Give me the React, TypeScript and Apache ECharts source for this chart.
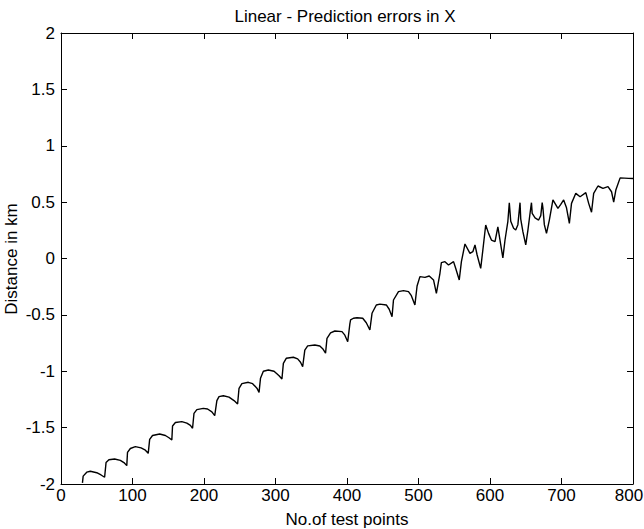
import React, { useEffect, useRef } from "react";
import * as echarts from "echarts";

const titleText = "Linear - Prediction errors in X";
const xAxisName = "No.of test points";
const yAxisName = "Distance in km";

const testPoints = [
  30, 31, 36, 41, 50, 56, 61,
  63, 67, 75, 83, 88, 92,
  93, 97, 104, 112, 118, 122,
  124, 128, 138, 146, 151, 155,
  156, 160, 169, 176, 181, 184,
  186, 190, 199, 205, 211, 215,
  218, 221, 227, 235, 242, 247,
  249, 253, 262, 268, 274, 277,
  279, 283, 290, 298, 305, 309,
  311, 315, 325, 331, 335, 338,
  341, 345, 355, 362, 366, 370,
  372, 377, 383, 393, 397, 401,
  404, 405, 409, 414, 422, 427, 432,
  435, 441, 446, 455, 459, 463,
  465, 472, 479, 486, 490, 495,
  498, 502, 509, 515, 521, 525,
  530, 532, 537, 542, 549, 552, 557,
  560, 565, 572, 576, 579, 582, 587,
  590, 594, 598, 602, 607, 611, 618,
  621, 625, 627, 629, 633, 636, 639, 642, 643, 646, 650,
  653, 657, 658, 659, 663, 668, 671, 673, 674, 676, 679,
  683, 688, 695, 699, 703, 707, 711,
  714, 720, 726, 734, 738, 742,
  745, 751, 758, 765, 770, 773,
  776, 782, 794, 800,
];

const errorKm = [
  -1.99, -1.93, -1.895, -1.887, -1.9, -1.92, -1.94,
  -1.81, -1.785, -1.778, -1.79, -1.81, -1.837,
  -1.72, -1.685, -1.669, -1.68, -1.7, -1.728,
  -1.604, -1.57, -1.557, -1.57, -1.59, -1.61,
  -1.486, -1.455, -1.447, -1.46, -1.48, -1.506,
  -1.373, -1.34, -1.329, -1.335, -1.36, -1.394,
  -1.261, -1.225, -1.217, -1.23, -1.26, -1.29,
  -1.151, -1.11, -1.098, -1.11, -1.15, -1.187,
  -1.063, -1.0, -0.989, -1.0, -1.04, -1.069,
  -0.93, -0.885, -0.876, -0.89, -0.92, -0.96,
  -0.812, -0.775, -0.767, -0.776, -0.8, -0.84,
  -0.708, -0.66, -0.643, -0.649, -0.68, -0.738,
  -0.58, -0.545, -0.53, -0.525, -0.53, -0.57, -0.634,
  -0.486, -0.412, -0.405, -0.412, -0.45, -0.516,
  -0.368, -0.294, -0.285, -0.294, -0.33, -0.412,
  -0.244, -0.161, -0.167, -0.155, -0.19, -0.309,
  -0.131, -0.037, -0.028, -0.058, -0.028, -0.087, -0.19,
  -0.028, 0.129, 0.046, 0.06, 0.12, 0.031, -0.087,
  0.075, 0.297, 0.223, 0.164, 0.149, 0.28, 0.005,
  0.164, 0.33, 0.495, 0.33, 0.268, 0.253, 0.3, 0.495, 0.35, 0.238, 0.12,
  0.25, 0.45, 0.495, 0.4, 0.36, 0.341, 0.38, 0.495, 0.45, 0.3, 0.223,
  0.341, 0.519, 0.445, 0.48, 0.519, 0.45, 0.312,
  0.489, 0.578, 0.548, 0.584, 0.489, 0.41,
  0.578, 0.643, 0.622, 0.637, 0.592, 0.5,
  0.607, 0.715, 0.711, 0.71,
];

const FONT = "'Liberation Sans', Arial, sans-serif";
const FS = 17;

export default function App() {
  const ref = useRef<HTMLDivElement>(null);
  useEffect(() => {
    if (!ref.current) return;
    const chart = echarts.init(ref.current, null, { renderer: "svg" });
    const data = testPoints.map((x, i) => [x, errorKm[i]]);
    const axisCommon = {
      axisLine: { show: true, onZero: false, lineStyle: { color: "#000", width: 1 } },
      axisTick: { show: true, inside: true, length: 6, lineStyle: { color: "#000" } },
      splitLine: { show: false },
    };
    chart.setOption({
      animation: false,
      backgroundColor: "#fff",
      grid: { left: 61, right: 11, top: 33, bottom: 45, containLabel: false, outerBoundsMode: "none" },
      graphic: [
        {
          type: "text",
          x: 345,
          y: 16,
          style: {
            text: titleText,
            fontFamily: FONT,
            fontSize: FS,
            fill: "#000",
            textAlign: "center",
            textVerticalAlign: "middle",
          },
        },
        {
          type: "text",
          x: 11,
          y: 259,
          rotation: Math.PI / 2,
          style: {
            text: yAxisName,
            fontFamily: FONT,
            fontSize: FS,
            fill: "#000",
            textAlign: "center",
            textVerticalAlign: "middle",
          },
        },
      ],
      xAxis: [
        {
          type: "value",
          min: 0,
          max: 800,
          interval: 100,
          position: "bottom",
          ...axisCommon,
          axisLabel: {
            color: "#000",
            fontFamily: FONT,
            fontSize: FS,
            margin: 3,
            formatter: (v: number) => (v === 800 ? "{r|800}" : String(v)),
            rich: { r: { fontFamily: FONT, fontSize: FS, color: "#000", padding: [0, 8, 0, 0] } },
          },
          name: xAxisName,
          nameLocation: "middle",
          nameGap: 27,
          nameTextStyle: { color: "#000", fontFamily: FONT, fontSize: FS },
        },
        {
          type: "value",
          min: 0,
          max: 800,
          interval: 100,
          position: "top",
          ...axisCommon,
          axisLabel: { show: false },
        },
      ],
      yAxis: [
        {
          type: "value",
          min: -2,
          max: 2,
          interval: 0.5,
          position: "left",
          ...axisCommon,
          axisLabel: { color: "#000", fontFamily: FONT, fontSize: FS, margin: 6 },
        },
        {
          type: "value",
          min: -2,
          max: 2,
          interval: 0.5,
          position: "right",
          ...axisCommon,
          axisLabel: { show: false },
        },
      ],
      series: [
        {
          type: "line",
          data,
          xAxisIndex: 0,
          yAxisIndex: 0,
          showSymbol: false,
          symbol: "none",
          lineStyle: { color: "#000", width: 1.4 },
        },
      ],
    });
    return () => chart.dispose();
  }, []);
  return <div ref={ref} style={{ width: 644, height: 529, position: "absolute", left: 0, top: 0 }} />;
}
